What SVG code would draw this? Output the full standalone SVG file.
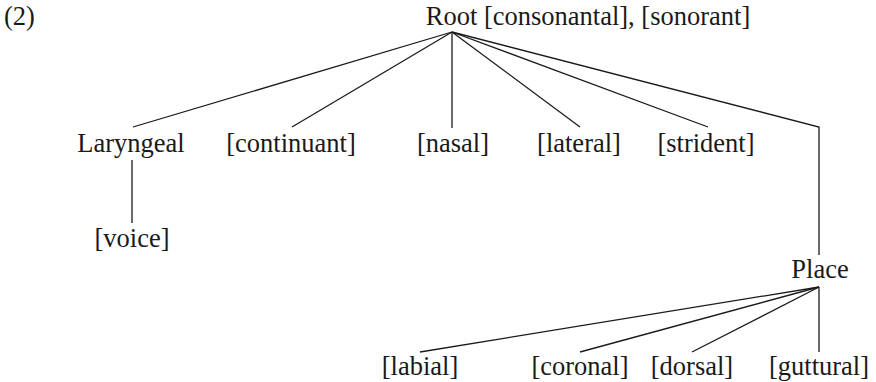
<svg xmlns="http://www.w3.org/2000/svg" width="876" height="382" viewBox="0 0 876 382">
<style>
text{font-family:"Liberation Serif","Times New Roman",serif;font-size:26.5px;fill:#1a1a1a;text-anchor:middle}
.c{stroke:#1a1a1a;stroke-width:1.3;fill:none}
</style>
<rect width="876" height="382" fill="#fff"/>
<text x="4" y="25" style="text-anchor:start">(2)</text>
<g id="root"><text x="588" y="25">Root [consonantal], [sonorant]</text></g>
<g id="laryngeal"><text x="131" y="152">Laryngeal</text></g>
<g id="voice"><text x="132" y="247">[voice]</text></g>
<g id="continuant"><text x="291" y="152">[continuant]</text></g>
<g id="nasal"><text x="453" y="152">[nasal]</text></g>
<g id="lateral"><text x="579" y="152">[lateral]</text></g>
<g id="strident"><text x="706" y="152">[strident]</text></g>
<g id="place"><text x="820" y="278">Place</text></g>
<g id="labial"><text x="420" y="375">[labial]</text></g>
<g id="coronal"><text x="580" y="375">[coronal]</text></g>
<g id="dorsal"><text x="692" y="375">[dorsal]</text></g>
<g id="guttural"><text x="819" y="375">[guttural]</text></g>
<g id="connectors" class="c">
<line x1="452" y1="32" x2="133" y2="127"/>
<line x1="452" y1="32" x2="292" y2="127"/>
<line x1="452" y1="32" x2="452" y2="128"/>
<line x1="452" y1="32" x2="580" y2="127"/>
<line x1="452" y1="32" x2="708" y2="127"/>
<polyline points="452,32 819,127 819,255"/>
<line x1="132" y1="160" x2="132" y2="223"/>
<line x1="819" y1="287" x2="420" y2="352"/>
<line x1="819" y1="287" x2="580" y2="352"/>
<line x1="819" y1="287" x2="692" y2="352"/>
<line x1="819" y1="287" x2="819" y2="352"/>
</g>
</svg>
